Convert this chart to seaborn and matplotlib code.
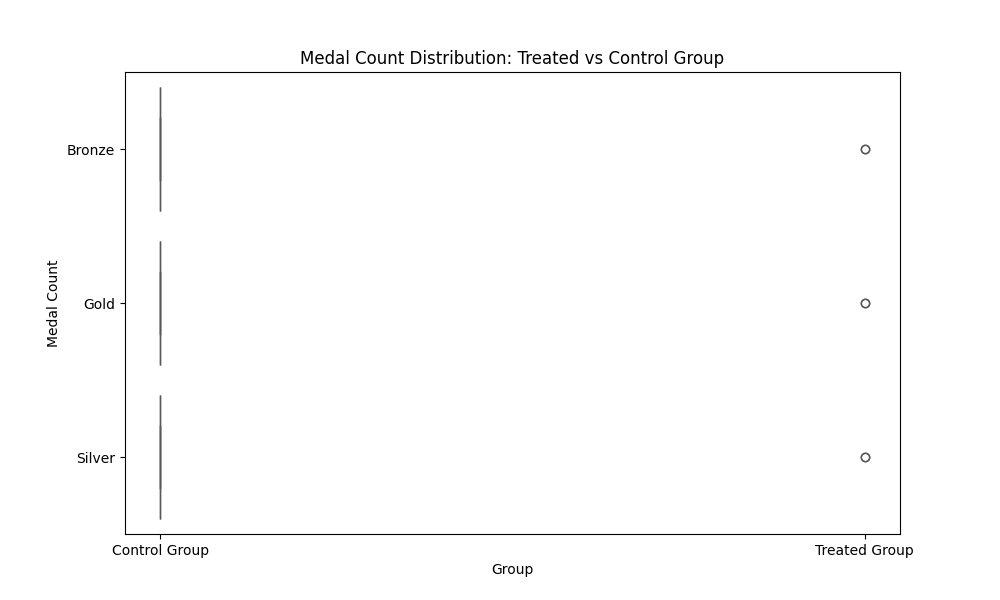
import matplotlib
matplotlib.use("Agg")
import matplotlib.pyplot as plt
import seaborn as sns
import pandas as pd

medals = ["Bronze", "Gold", "Silver"]
groups = ["Control Group", "Treated Group"]
# counts of observations per medal in each group (0 = control, 1 = treated)
control_counts = [20, 20, 20]
treated_counts = [2, 2, 2]

rows = []
for m, c, t in zip(medals, control_counts, treated_counts):
    rows += [{"Medal": m, "GroupCode": 0}] * c
    rows += [{"Medal": m, "GroupCode": 1}] * t
df = pd.DataFrame(rows)

fig, ax = plt.subplots(figsize=(10, 6), dpi=100)
sns.boxplot(data=df, x="GroupCode", y="Medal", order=medals, orient="h",
            hue="Medal", palette="Set2", legend=False, ax=ax)
ax.set_xticks([0, 1])
ax.set_xticklabels(groups)
ax.set_xlabel("Group")
ax.set_ylabel("Medal Count")
ax.set_title("Medal Count Distribution: Treated vs Control Group")
fig.savefig("out.png")
